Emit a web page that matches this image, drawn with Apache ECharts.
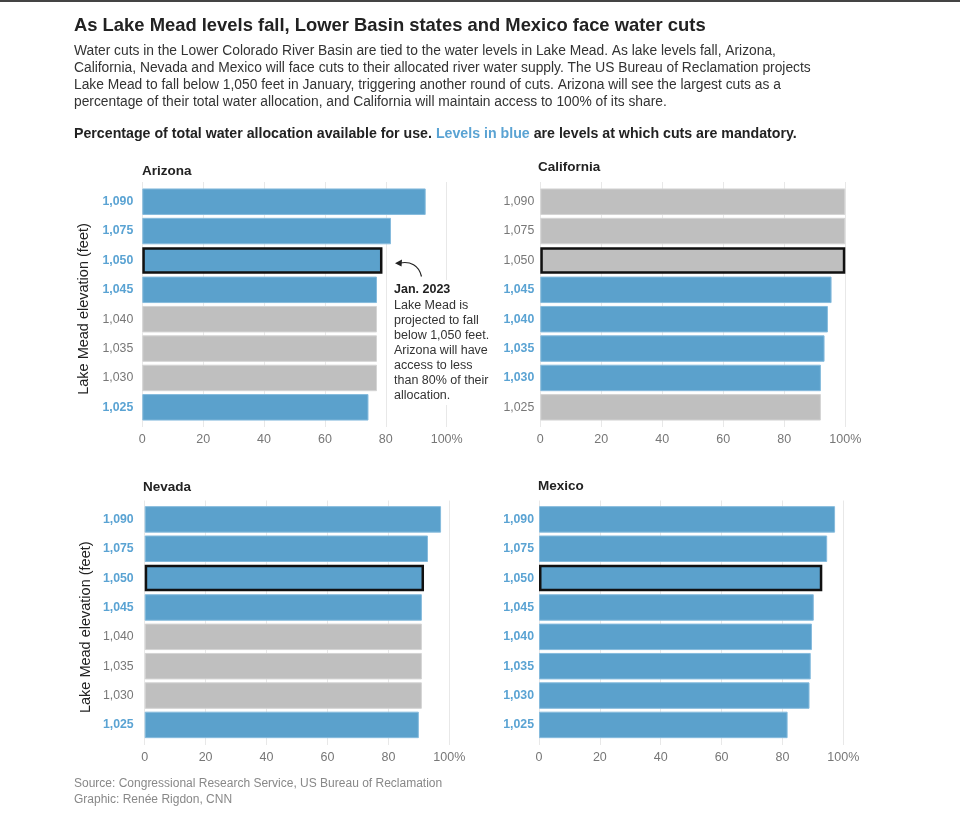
<!DOCTYPE html>
<html>
<head>
<meta charset="utf-8">
<script src="https://cdn.jsdelivr.net/npm/echarts@6/dist/echarts.min.js"></script>
<style>
  body { margin: 0; background: #fff; }
  #chart { width: 960px; height: 818px; }
</style>
</head>
<body>
<div id="chart"></div>
<script>
// lake mead levels (top to bottom)
const levels = ["1,090", "1,075", "1,050", "1,045", "1,040", "1,035", "1,030", "1,025"];
const xTicks = [0, 20, 40, 60, 80, 100];

// % of total allocation available
const arizona = [93.1, 81.7, 78.9, 77.1, 77.1, 77.1, 77.1, 74.3];
const california = [100, 100, 100, 95.5, 94.3, 93.2, 92.0, 92.0];
const nevada = [97.3, 93.0, 91.7, 91.0, 91.0, 91.0, 91.0, 90.0];
const mexico = [97.3, 94.7, 93.1, 90.3, 89.7, 89.3, 88.9, 81.7];

// 1 = cuts mandatory at this level (blue)
const arizonaCut = [1, 1, 1, 1, 0, 0, 0, 1];
const californiaCut = [0, 0, 0, 1, 1, 1, 1, 0];
const nevadaCut = [1, 1, 1, 1, 0, 0, 0, 1];
const mexicoCut = [1, 1, 1, 1, 1, 1, 1, 1];

const highlightLevel = "1,050";

const FONT = "Liberation Sans, Arial, sans-serif";
const BLUE = "#5ba1cc";
const BLUE_TXT = "#5aa3d3";
const GRAY = "#bfbfbf";

const panels = [
  { name: "Arizona", data: arizona, cut: arizonaCut, left: 142.3, right: 446.7, top: 187, bottom: 422, ftop: 182, fbottom: 427, labelGap: 9, axisName: true },
  { name: "California", data: california, cut: californiaCut, left: 540.3, right: 845.3, top: 187, bottom: 422, ftop: 182, fbottom: 427, labelGap: 6, axisName: false },
  { name: "Nevada", data: nevada, cut: nevadaCut, left: 144.7, right: 449.3, top: 504.7, bottom: 739.6, ftop: 500.5, fbottom: 745, labelGap: 11, axisName: true },
  { name: "Mexico", data: mexico, cut: mexicoCut, left: 539, right: 843.3, top: 504.7, bottom: 739.6, ftop: 500.5, fbottom: 745, labelGap: 5, axisName: false }
];

const grid = [], xAxis = [], yAxis = [], series = [];

panels.forEach((p, i) => {
  // frame grid: gridlines + tick labels
  grid.push({ left: p.left, width: p.right - p.left, top: p.ftop, height: p.fbottom - p.ftop });
  // bar grid
  grid.push({ left: p.left, width: p.right - p.left, top: p.top, height: p.bottom - p.top });
  const fg = i * 2, bg = i * 2 + 1;

  xAxis.push({
    gridIndex: fg, type: "value", min: xTicks[0], max: xTicks[xTicks.length - 1], interval: xTicks[1] - xTicks[0],
    axisLine: { show: false }, axisTick: { show: false },
    splitLine: { show: true, lineStyle: { color: "#e8e8e8", width: 1 } },
    axisLabel: {
      color: "#777", fontFamily: FONT, fontSize: 12.5, margin: 6,
      formatter: v => v === 100 ? "100%" : String(v)
    }
  });
  xAxis.push({ gridIndex: bg, type: "value", min: 0, max: 100, show: false });

  yAxis.push({
    gridIndex: fg, type: "category", data: levels, show: p.axisName,
    axisLine: { show: false }, axisTick: { show: false }, axisLabel: { show: false },
    name: p.axisName ? "Lake Mead elevation (feet)" : "",
    nameLocation: "middle", nameRotate: 90, nameGap: 51,
    nameTextStyle: { color: "#222", fontFamily: FONT, fontSize: 14.5, padding: [0, 9, 0, 0] }
  });
  yAxis.push({
    gridIndex: bg, type: "category", data: levels, inverse: true,
    axisLine: { show: false }, axisTick: { show: false },
    axisLabel: {
      margin: p.labelGap, fontFamily: FONT,
      formatter: (v, idx) => p.cut[idx] ? "{b|" + v + "}" : "{g|" + v + "}",
      rich: {
        b: { color: BLUE_TXT, fontWeight: "bold", fontSize: 12.3, fontFamily: FONT },
        g: { color: "#777", fontSize: 12.3, fontFamily: FONT }
      }
    }
  });

  series.push({
    type: "bar", xAxisIndex: bg, yAxisIndex: bg, barWidth: 26.5,
    silent: true,
    data: p.data.map((v, idx) => {
      const c = p.cut[idx] ? BLUE : GRAY;
      const hl = levels[idx] === highlightLevel;
      return {
        value: v,
        itemStyle: {
          color: c,
          borderColor: hl ? "#111" : (p.cut[idx] ? "#86bbdd" : "#d4d4d4"),
          borderWidth: hl ? 2.5 : 1
        }
      };
    })
  });
});

const txt = (x, y, text, style) => ({
  type: "text", x: x, y: y, silent: true,
  style: Object.assign({ text: text, fontFamily: FONT, fill: "#222", verticalAlign: "middle" }, style)
});

const graphic = [
  { type: "rect", shape: { x: 0, y: 0, width: 960, height: 2 }, style: { fill: "#444" } },
  txt(74, 26, "As Lake Mead levels fall, Lower Basin states and Mexico face water cuts", { fontSize: 18.4, fontWeight: "bold", fill: "#222" }),
  {
    type: "text", x: 74, y: 43, silent: true,
    style: {
      text: "Water cuts in the Lower Colorado River Basin are tied to the water levels in Lake Mead. As lake levels fall, Arizona,\n" +
        "California, Nevada and Mexico will face cuts to their allocated river water supply. The US Bureau of Reclamation projects\n" +
        "Lake Mead to fall below 1,050 feet in January, triggering another round of cuts. Arizona will see the largest cuts as a\n" +
        "percentage of their total water allocation, and California will maintain access to 100% of its share.",
      fontFamily: FONT, fontSize: 13.8, lineHeight: 17, fill: "#333"
    }
  },
  {
    type: "text", x: 74, y: 134, silent: true,
    style: {
      text: "{k|Percentage of total water allocation available for use. }{b|Levels in blue}{k| are levels at which cuts are mandatory.}",
      verticalAlign: "middle",
      rich: {
        k: { fontFamily: FONT, fontSize: 14.2, fontWeight: "bold", fill: "#222" },
        b: { fontFamily: FONT, fontSize: 14.2, fontWeight: "bold", fill: BLUE_TXT }
      }
    }
  },
  txt(142, 171, "Arizona", { fontSize: 13.5, fontWeight: "bold" }),
  txt(538, 167, "California", { fontSize: 13.5, fontWeight: "bold" }),
  txt(143, 487, "Nevada", { fontSize: 13.5, fontWeight: "bold" }),
  txt(538, 486, "Mexico", { fontSize: 13.5, fontWeight: "bold" }),
  // annotation
  {
    type: "bezierCurve", silent: true, z: 100,
    shape: { x1: 421.5, y1: 276.5, x2: 400, y2: 263, cpx1: 419, cpy1: 265, cpx2: 410, cpy2: 261 },
    style: { stroke: "#222", lineWidth: 1.2, fill: null }
  },
  { type: "polygon", silent: true, z: 100, shape: { points: [[395, 263.2], [402, 259.6], [401.5, 266.4]] }, style: { fill: "#222" } },
  {
    type: "text", x: 392, y: 280, silent: true, z: 100,
    style: {
      text: "{h|Jan. 2023}\n{t|Lake Mead is}\n{t|projected to fall}\n{t|below 1,050 feet.}\n{t|Arizona will have}\n{t|access to less}\n{t|than 80% of their}\n{t|allocation.}",
      backgroundColor: "#fff", padding: [1, 2, 2, 2],
      rich: {
        h: { fontFamily: FONT, fontSize: 12.5, fontWeight: "bold", fill: "#222", lineHeight: 17 },
        t: { fontFamily: FONT, fontSize: 12.5, fill: "#333", lineHeight: 15 }
      }
    }
  },
  // footer
  txt(74, 784, "Source: Congressional Research Service, US Bureau of Reclamation", { fontSize: 12, fill: "#888" }),
  txt(74, 800, "Graphic: Ren\u00e9e Rigdon, CNN", { fontSize: 12, fill: "#888" })
];

const chart = echarts.init(document.getElementById("chart"), null, { renderer: "canvas" });
chart.setOption({
  animation: false,
  textStyle: { fontFamily: FONT },
  grid: grid,
  xAxis: xAxis,
  yAxis: yAxis,
  series: series,
  graphic: graphic
});
</script>
</body>
</html>
